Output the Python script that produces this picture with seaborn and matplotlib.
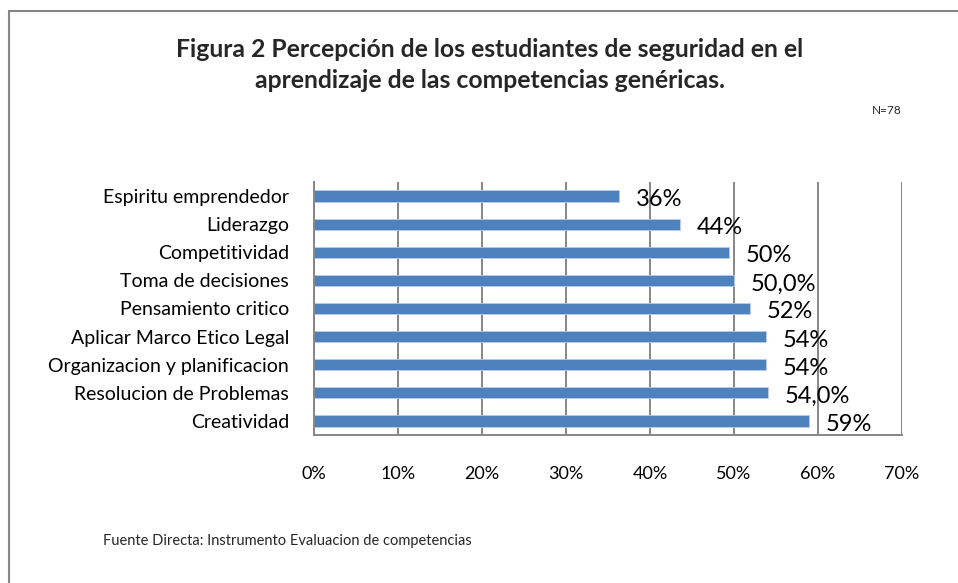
import matplotlib
matplotlib.use("Agg")
import matplotlib.pyplot as plt
import seaborn as sns
import pandas as pd
from matplotlib.ticker import PercentFormatter
from matplotlib.lines import Line2D

categories = [
    "Espiritu emprendedor",
    "Liderazgo",
    "Competitividad",
    "Toma de decisiones",
    "Pensamiento critico",
    "Aplicar Marco Etico Legal",
    "Organizacion y planificacion",
    "Resolucion de Problemas",
    "Creatividad",
]
values = [0.363, 0.436, 0.494, 0.500, 0.519, 0.538, 0.538, 0.540, 0.589]
value_labels = ["36%", "44%", "50%", "50,0%", "52%", "54%", "54%", "54,0%", "59%"]
x_ticks = [0, 0.1, 0.2, 0.3, 0.4, 0.5, 0.6, 0.7]

title = "Figura 2 Percepción de los estudiantes de seguridad en el\naprendizaje de las competencias genéricas."
n_note = "N=78"
source = "Fuente Directa: Instrumento Evaluacion de competencias"

df = pd.DataFrame({"Competencia": categories, "Valor": values})

sns.set_style("white")
plt.rcParams["font.family"] = ["Lato", "DejaVu Sans"]

fig = plt.figure(figsize=(9.58, 5.83), dpi=100)
ax = fig.add_axes([0.3278, 0.2539, 0.6137, 0.4339])

sns.barplot(data=df, x="Valor", y="Competencia", orient="h", color="#4F81BD",
            saturation=1, width=0.4, ax=ax, edgecolor="#B9CDE5", linewidth=0.6)

ax.set_xlim(0, 0.7)
ax.set_ylim(8.5, -0.5)
ax.set_xticks(x_ticks)
ax.xaxis.set_major_formatter(PercentFormatter(1.0, decimals=0))
ax.set_xlabel("")
ax.set_ylabel("")
ax.grid(axis="x", color="#868686", linewidth=1.4)
ax.grid(axis="y", visible=False)
ax.set_axisbelow(True)
for s in ["top", "right"]:
    ax.spines[s].set_visible(False)
for s in ["left", "bottom"]:
    ax.spines[s].set_color("#868686")
    ax.spines[s].set_linewidth(1.4)
ax.tick_params(axis="x", direction="out", length=5, width=1.4, color="#868686",
               labelsize=13, pad=17, labelcolor="black")
ax.tick_params(axis="y", direction="out", length=5, width=1.4, color="#868686",
               labelsize=14, pad=13, labelcolor="black")
ax.set_yticks(range(len(categories)))
ax.set_yticklabels(categories)

texts = ax.bar_label(ax.containers[0], labels=value_labels, padding=12, fontsize=17,
                     color="black", label_type="edge")
for t in texts:
    t.xyann = (t.xyann[0], -2.5)

fig.text(0.511, 0.935, title, ha="center", va="top", fontsize=17.8, fontweight="bold",
         linespacing=1.42)
fig.text(0.926, 0.81, n_note, ha="center", va="center", fontsize=8.5)
fig.text(0.107, 0.072, source, ha="left", va="center", fontsize=10.5)

# figure border (left and top edges visible)
fig.add_artist(Line2D([0.0099, 0.0099], [0.0, 0.981], color="#868686", linewidth=1.5,
                      transform=fig.transFigure))
fig.add_artist(Line2D([0.0099, 1.0], [0.981, 0.981], color="#868686", linewidth=1.5,
                      transform=fig.transFigure))

fig.savefig("out.png", dpi=100, facecolor="white")
